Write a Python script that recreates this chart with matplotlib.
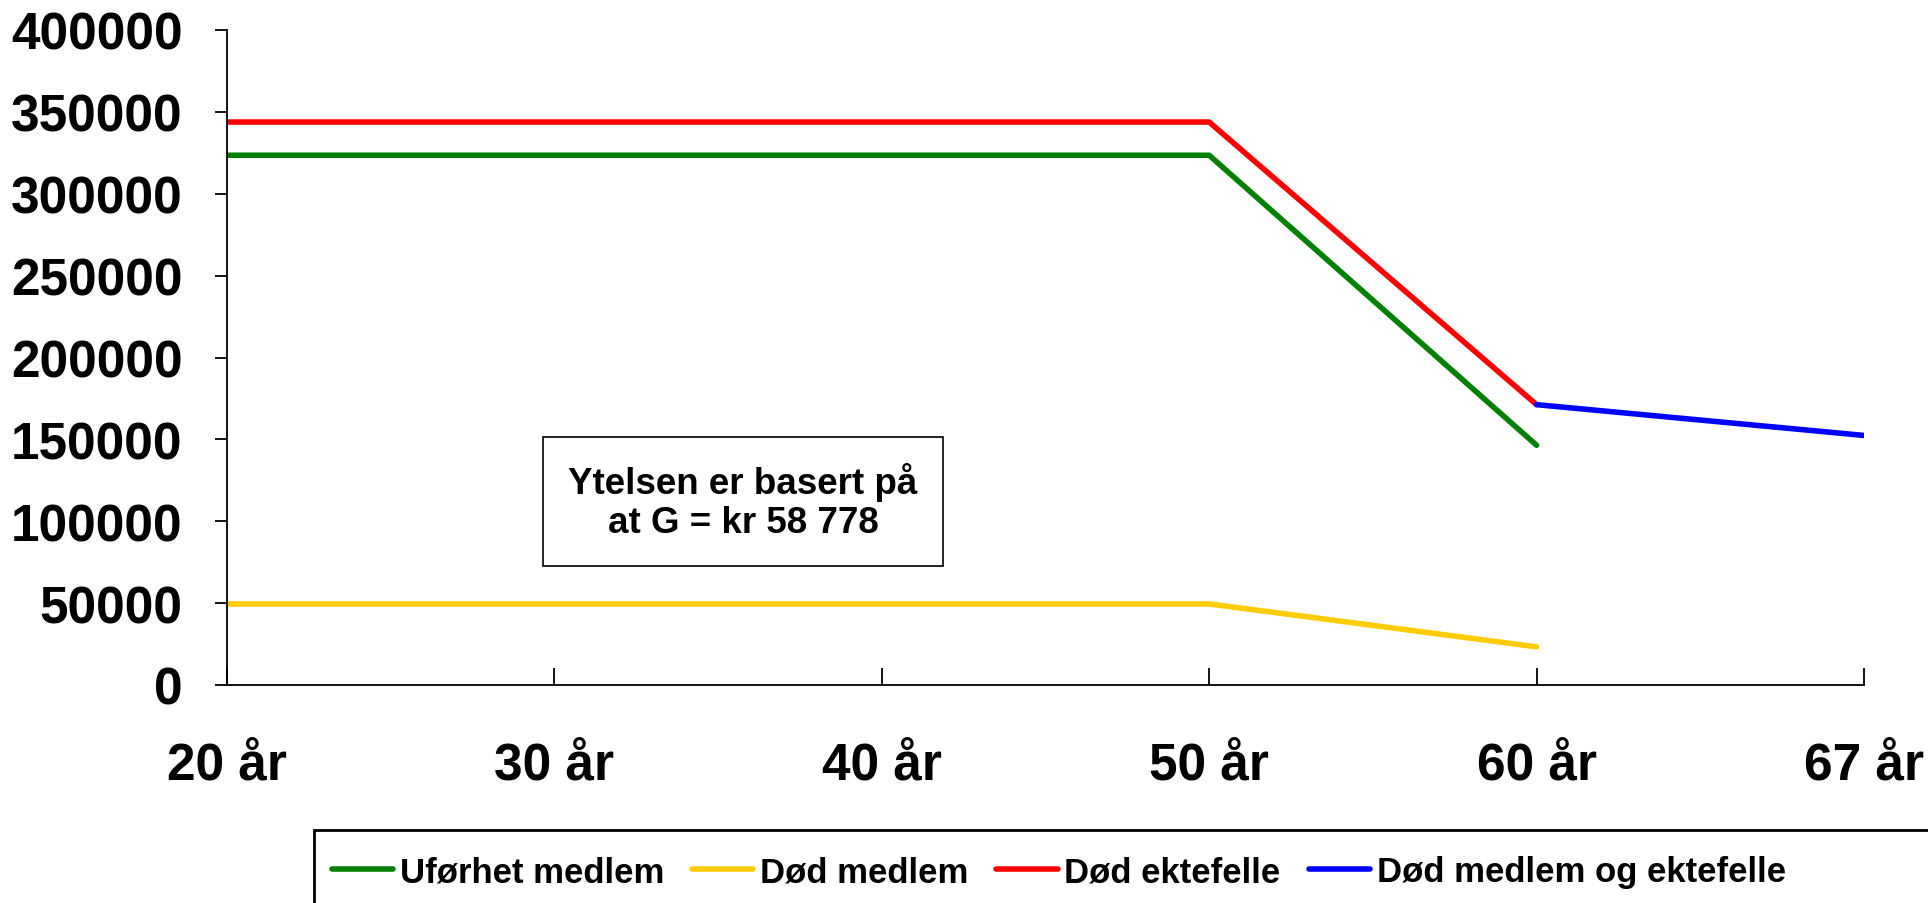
import matplotlib.pyplot as plt
import matplotlib.patches as patches
import numpy as np

plt.rcParams['font.family'] = ['Liberation Sans', 'DejaVu Sans']
plt.rcParams['font.weight'] = 'bold'

ages = ["20 år", "30 år", "40 år", "50 år", "60 år", "67 år"]
ufor_medlem = [323500, 323500, 323500, 323500, 146400, np.nan]
dod_medlem = [49500, 49500, 49500, 49500, 23300, np.nan]
dod_ektefelle = [343800, 343800, 343800, 343800, 171200, np.nan]
dod_begge = [np.nan, np.nan, np.nan, np.nan, 171200, 152400]

W, H = 1928, 904
fig = plt.figure(figsize=(W / 100, H / 100), dpi=100)
ax = fig.add_axes([227 / W, 1 - 686 / H, (1864 - 227) / W, (686 - 31) / H])

x = np.arange(len(ages))
lw = 4
ax.plot(x, ufor_medlem, color='#008000', lw=lw, label='Uførhet medlem', solid_capstyle='round')
ax.plot(x, dod_medlem, color='#FFCC00', lw=lw, label='Død medlem', solid_capstyle='round')
ax.plot(x, dod_ektefelle, color='#FF0000', lw=lw, label='Død ektefelle', solid_capstyle='round')
ax.plot(x, dod_begge, color='#0000FF', lw=lw, label='Død medlem og ektefelle', solid_capstyle='round')

ax.set_xlim(0, len(ages) - 1)
ax.set_ylim(0, 400000)
ax.set_xticks(x)
ax.set_xticklabels(ages)
ax.set_yticks(np.arange(0, 400001, 50000))
ax.set_yticklabels([str(v) for v in range(0, 400001, 50000)])
ax.tick_params(axis='y', direction='out', length=9, width=1.3, pad=23, labelsize=37)
ax.tick_params(axis='x', direction='in', length=12, width=1.3, pad=40, labelsize=37)
for s in ['top', 'right']:
    ax.spines[s].set_visible(False)
for s in ['left', 'bottom']:
    ax.spines[s].set_linewidth(1.3)

# note box
fig.patches.append(patches.Rectangle((543 / W, 1 - 567 / H), 400 / W, 129 / H,
                                     transform=fig.transFigure, fill=False,
                                     edgecolor='black', lw=1.2))
fig.text(743 / W, 1 - 502 / H, "Ytelsen er basert på\nat G = kr 58 778",
         ha='center', va='center', fontsize=26.5, fontweight='bold', linespacing=1.15)

# legend frame, runs off the figure edge
fig.patches.append(patches.Rectangle((314 / W, -0.2), 1.0, (904 - 831) / H + 0.2,
                                     transform=fig.transFigure, fill=False,
                                     edgecolor='black', lw=2, clip_on=False))
fig.legend(loc='center left', bbox_to_anchor=(332 / W, 1 - 873 / H), ncol=4,
           frameon=False, fontsize=25, borderpad=0, borderaxespad=0,
           handlelength=1.76, handletextpad=0.2, columnspacing=0.8)

fig.savefig('out.png', dpi=100)
